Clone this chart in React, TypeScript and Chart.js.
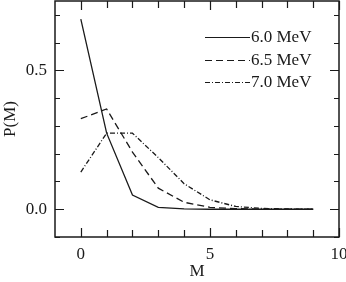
import React, { useEffect, useRef } from "react";
import { Chart, registerables } from "chart.js";

Chart.register(...registerables);

const mValues = [0, 1, 2, 3, 4, 5, 6, 7, 8, 9];
const p60 = [0.685, 0.274, 0.051, 0.007, 0.001, 0.0, 0.0, 0.0, 0.0, 0.0];
const p65 = [0.326, 0.361, 0.206, 0.076, 0.025, 0.007, 0.002, 0.0005, 0.0, 0.0];
const p70 = [0.134, 0.274, 0.274, 0.186, 0.092, 0.034, 0.01, 0.003, 0.001, 0.0];
const seriesLabels = ["6.0 MeV", "6.5 MeV", "7.0 MeV"];
const xMajorTicks = [0, 5, 10];
const xMinorTicks = [0, 1, 2, 3, 4, 5, 6, 7, 8, 9, 10];
const yMajorTicks = [0, 0.5];
const yMinorTicks = [-0.1, 0, 0.1, 0.2, 0.3, 0.4, 0.5, 0.6, 0.7];

const FONT = "'Liberation Serif', 'DejaVu Serif', serif";
const INK = "#1a1a1a";
const dashes: number[][] = [[], [7, 4], [5, 2, 1, 2]];

const framePlugin = {
  id: "frameTicks",
  afterDraw(chart: any) {
    const { ctx, chartArea: a, scales } = chart;
    const xs = scales.x;
    const ys = scales.y;
    ctx.save();
    ctx.strokeStyle = INK;
    ctx.lineWidth = 1.5;
    ctx.strokeRect(a.left, a.top, a.right - a.left, a.bottom - a.top);
    ctx.lineWidth = 1.2;
    ctx.beginPath();
    xMinorTicks.forEach((v) => {
      const len = xMajorTicks.includes(v) ? 9 : 7;
      const px = Math.round(xs.getPixelForValue(v)) + 0.5;
      ctx.moveTo(px, a.bottom);
      ctx.lineTo(px, a.bottom - len);
      ctx.moveTo(px, a.top);
      ctx.lineTo(px, a.top + len);
    });
    yMinorTicks.forEach((v) => {
      const len = yMajorTicks.some((m) => Math.abs(m - v) < 1e-9) ? 9 : 5;
      const py = Math.round(ys.getPixelForValue(v)) + 0.5;
      ctx.moveTo(a.left, py);
      ctx.lineTo(a.left + len, py);
      ctx.moveTo(a.right, py);
      ctx.lineTo(a.right - len, py);
    });
    ctx.stroke();

    // legend
    const lx0 = 205;
    const lx1 = 250;
    const rowY = [37, 60, 82];
    ctx.font = `17px ${FONT}`;
    ctx.textBaseline = "middle";
    ctx.textAlign = "left";
    ctx.fillStyle = INK;
    seriesLabels.forEach((lab, i) => {
      ctx.beginPath();
      ctx.setLineDash(dashes[i]);
      ctx.lineWidth = 1.2;
      ctx.moveTo(lx0, rowY[i] + 0.5);
      ctx.lineTo(lx1, rowY[i] + 0.5);
      ctx.stroke();
      ctx.setLineDash([]);
      ctx.fillText(lab, lx1 + 1, rowY[i] + 1);
    });
    ctx.restore();
  },
};

export default function App() {
  const ref = useRef<HTMLCanvasElement>(null);
  useEffect(() => {
    if (!ref.current) return;
    const mk = (data: number[], i: number) => ({
      label: seriesLabels[i],
      data: mValues.map((m, k) => ({ x: m, y: data[k] })),
      borderColor: INK,
      borderWidth: 1.3,
      borderDash: dashes[i],
      pointRadius: 0,
      fill: false,
      tension: 0,
    });
    const chart = new Chart(ref.current, {
      type: "line",
      data: { datasets: [mk(p60, 0), mk(p65, 1), mk(p70, 2)] },
      options: {
        animation: false,
        responsive: false,
        maintainAspectRatio: false,
        layout: { padding: { top: 1, right: 7, left: 0, bottom: 0 } },
        plugins: { legend: { display: false }, tooltip: { enabled: false } },
        scales: {
          x: {
            type: "linear",
            min: -1,
            max: 10,
            grid: { display: false, drawTicks: false },
            border: { display: false },
            afterFit: (s: any) => {
              s.height = 45;
              s.paddingLeft = 0;
              s.paddingRight = 0;
            },
            afterBuildTicks: (s: any) => {
              s.ticks = xMajorTicks.map((v) => ({ value: v }));
            },
            ticks: {
              padding: 7,
              color: INK,
              font: { family: FONT, size: 17 },
              maxRotation: 0,
              callback: (v: any) => String(v),
            },
            title: {
              display: true,
              text: "M",
              color: INK,
              font: { family: FONT, size: 17 },
              padding: { top: 0, bottom: 0 },
            },
          },
          y: {
            type: "linear",
            min: -0.1,
            max: 0.75,
            grid: { display: false, drawTicks: false },
            border: { display: false },
            afterFit: (s: any) => {
              s.width = 55;
              s.paddingTop = 0;
              s.paddingBottom = 0;
            },
            afterBuildTicks: (s: any) => {
              s.ticks = yMajorTicks.map((v) => ({ value: v }));
            },
            ticks: {
              padding: 8,
              color: INK,
              font: { family: FONT, size: 17 },
              callback: (v: any) => Number(v).toFixed(1),
            },
            title: {
              display: true,
              text: "P(M)",
              color: INK,
              font: { family: FONT, size: 17 },
              padding: { top: 0, bottom: 0 },
            },
          },
        },
      },
      plugins: [framePlugin],
    });
    return () => chart.destroy();
  }, []);
  return (
    <div style={{ position: "fixed", left: 0, top: 0, width: 346, height: 282, background: "#fff" }}>
      <canvas ref={ref} width={346} height={282} style={{ display: "block", width: 346, height: 282 }} />
    </div>
  );
}
